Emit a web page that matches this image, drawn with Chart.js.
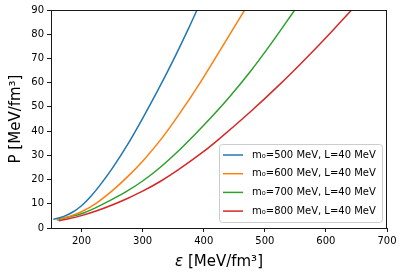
<!DOCTYPE html>
<html>
<head>
<meta charset="utf-8">
<script src="https://cdn.jsdelivr.net/npm/chart.js@4"></script>
<style>
  html, body { margin: 0; padding: 0; background: #fff; }
  #wrap { width: 402px; height: 276px; }
</style>
</head>
<body>
<div id="wrap"><canvas id="chart" width="402" height="276"></canvas></div>
<script>
// energy density (MeV/fm^3) and pressure (MeV/fm^3)
const eps500 = [153.8, 170, 185, 200, 215, 230, 250, 275, 300, 325, 350, 375, 389];
const p500   = [3.6, 4.7, 6.5, 9.2, 13.0, 17.6, 24.5, 34.3, 45.3, 56.9, 69.2, 82.3, 90];

const eps600 = [159, 175, 187, 200, 225, 250, 275, 300, 331, 361, 394, 430, 467];
const p600   = [3.5, 4.4, 5.4, 6.7, 10.4, 15.3, 21.1, 27.6, 36.9, 47.4, 59.9, 74.7, 90];

const eps700 = [160, 175, 200, 225, 250, 275, 300, 330, 361, 377, 400, 440, 476, 510, 549];
const p700   = [3.3, 4.3, 5.9, 8.6, 11.8, 15.3, 19.4, 25.3, 32.4, 36.4, 42.4, 53.5, 64.5, 76, 90];

const eps800 = [162.5, 180, 200, 225, 250, 275, 300, 330, 361, 400, 424, 476, 525, 558, 600, 642];
const p800   = [3.0, 3.9, 5.1, 7.1, 9.5, 12.2, 15.2, 19.4, 24.5, 31.6, 36.5, 47.9, 59.4, 67.6, 78.5, 90];

const seriesLabels = ["m\u2080=500 MeV, L=40 MeV", "m\u2080=600 MeV, L=40 MeV",
                      "m\u2080=700 MeV, L=40 MeV", "m\u2080=800 MeV, L=40 MeV"];
const seriesColors = ["#1f77b4", "#ff7f0e", "#2ca02c", "#d62728"];

const xTicks = [200, 300, 400, 500, 600, 700];
const yTicks = [0, 10, 20, 30, 40, 50, 60, 70, 80, 90];

const FONT = "DejaVu Sans";

function pts(xs, ys) {
    return xs.map((x, i) => ({ x: x, y: ys[i] }));
}

const allSeries = [[eps500, p500], [eps600, p600], [eps700, p700], [eps800, p800]];

const datasets = allSeries.map((s, i) => ({
    label: seriesLabels[i],
    data: pts(s[0], s[1]),
    borderColor: seriesColors[i],
    backgroundColor: seriesColors[i],
    borderWidth: 1.5,
    pointRadius: 0,
    fill: false,
    cubicInterpolationMode: "monotone"
}));

// frame, axis titles and legend, drawn matplotlib style
const decor = {
    id: "decor",
    afterDraw(chart) {
        const ctx = chart.ctx;
        const ca = chart.chartArea;
        ctx.save();

        // frame
        ctx.strokeStyle = "#1a1a1a";
        ctx.lineWidth = 1;
        ctx.strokeRect(Math.round(ca.left) + 0.5, Math.round(ca.top) + 0.5,
                       Math.round(ca.right - ca.left) - 1, Math.round(ca.bottom - ca.top));

        // x title with italic epsilon
        ctx.fillStyle = "#000";
        ctx.textBaseline = "alphabetic";
        ctx.textAlign = "left";
        const eps = "\u03b5";
        const rest = " [MeV/fm\u00b3]";
        ctx.font = "italic 15px " + FONT;
        const w1 = ctx.measureText(eps).width;
        ctx.font = "15px " + FONT;
        const w2 = ctx.measureText(rest).width;
        let x0 = (ca.left + ca.right) / 2 - (w1 + w2) / 2;
        ctx.font = "italic 15px " + FONT;
        ctx.fillText(eps, x0, 266);
        ctx.font = "15px " + FONT;
        ctx.fillText(rest, x0 + w1, 266);

        // y title
        ctx.save();
        ctx.translate(20, (ca.top + ca.bottom) / 2);
        ctx.rotate(-Math.PI / 2);
        ctx.textAlign = "center";
        ctx.fillText("P [MeV/fm\u00b3]", 0, 0);
        ctx.restore();

        // legend
        const boxW = 163, boxH = 78;
        const bx = ca.right - 5 - boxW, by = ca.bottom - 6 - boxH;
        ctx.beginPath();
        ctx.roundRect(bx + 0.5, by + 0.5, boxW, boxH, 3);
        ctx.fillStyle = "rgba(255,255,255,0.8)";
        ctx.fill();
        ctx.strokeStyle = "#cccccc";
        ctx.lineWidth = 1;
        ctx.stroke();

        ctx.font = "10px " + FONT;
        ctx.textBaseline = "middle";
        chart.data.datasets.forEach((ds, i) => {
            const cy = by + 11 + i * 18.7;
            ctx.strokeStyle = ds.borderColor;
            ctx.lineWidth = 1.5;
            ctx.beginPath();
            ctx.moveTo(bx + 4, cy);
            ctx.lineTo(bx + 24, cy);
            ctx.stroke();
            ctx.fillStyle = "#000";
            ctx.fillText(ds.label, bx + 33, cy);
        });
        ctx.restore();
    }
};

new Chart(document.getElementById("chart"), {
    type: "line",
    data: { datasets: datasets },
    options: {
        responsive: false,
        animation: false,
        layout: { padding: { top: 10, right: 15, left: 0, bottom: 0 } },
        plugins: { legend: { display: false }, tooltip: { enabled: false } },
        scales: {
            x: {
                type: "linear",
                min: 150,
                max: 700,
                afterBuildTicks: s => { s.ticks = xTicks.map(v => ({ value: v })); },
                afterFit: s => { s.height = 48; },
                border: { display: false },
                grid: { drawOnChartArea: false, drawTicks: true, tickLength: 4, color: "#1a1a1a" },
                ticks: { font: { family: FONT, size: 10 }, color: "#000", padding: 3, maxRotation: 0 }
            },
            y: {
                min: 0,
                max: 90,
                afterBuildTicks: s => { s.ticks = yTicks.map(v => ({ value: v })); },
                afterFit: s => { s.width = 51; },
                border: { display: false },
                grid: { drawOnChartArea: false, drawTicks: true, tickLength: 4, color: "#1a1a1a" },
                ticks: { font: { family: FONT, size: 10 }, color: "#000", padding: 3 }
            }
        }
    },
    plugins: [decor]
});
</script>
</body>
</html>
